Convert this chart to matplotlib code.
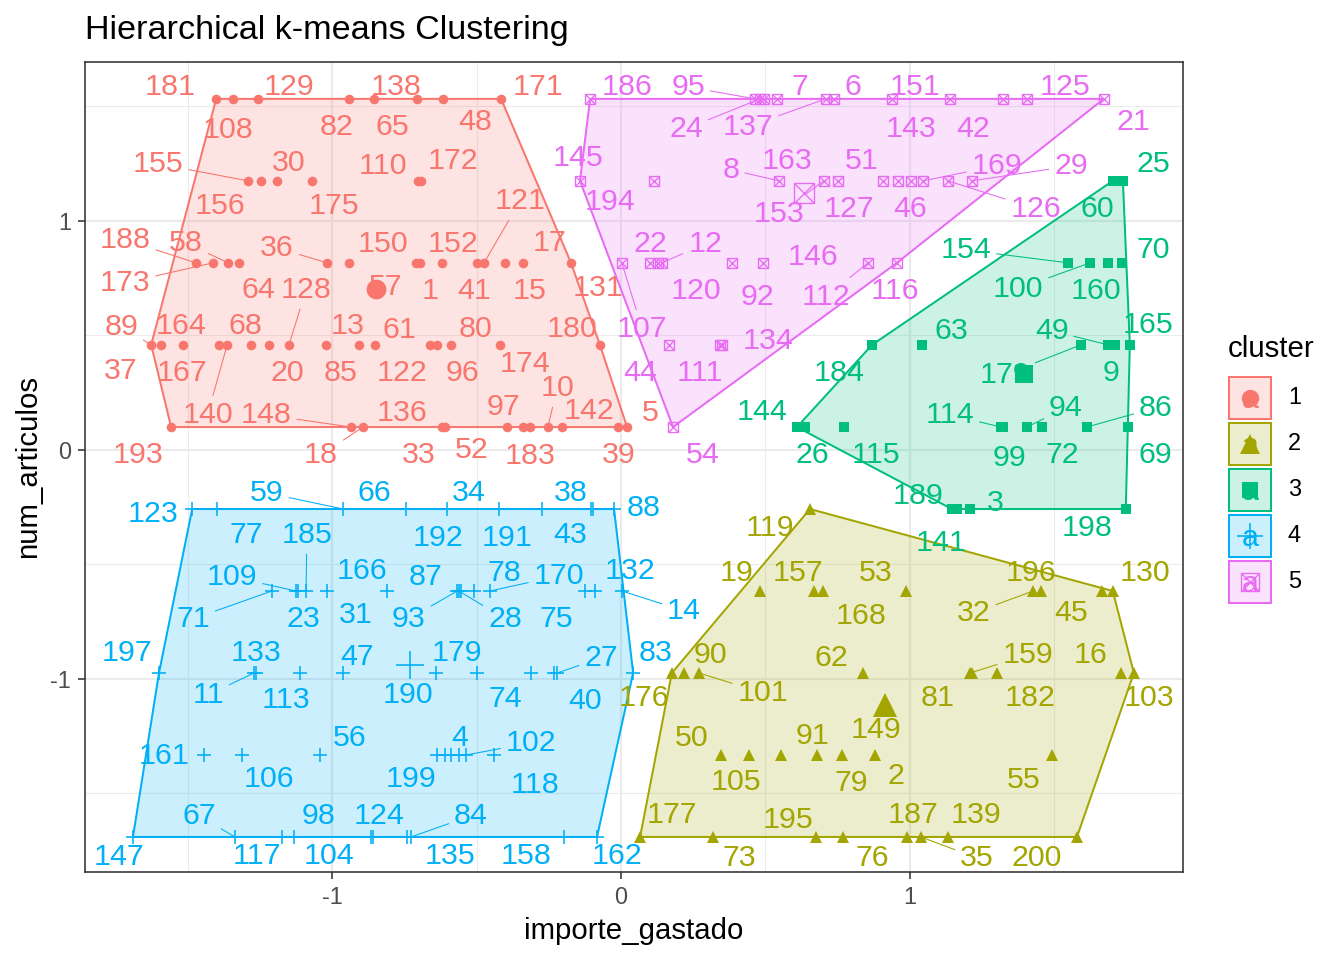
import numpy as np
import matplotlib.pyplot as plt
from matplotlib.patches import Polygon, Rectangle
from matplotlib.colors import to_rgba
from matplotlib.transforms import offset_copy

plt.rcParams['font.family'] = ['Liberation Sans', 'DejaVu Sans']
plt.rcParams['axes.unicode_minus'] = False

# ---- datos (importe_gastado, num_articulos escalados) ----
# cluster 1
c1_lab = ['181', '108', '129', '82', '65', '138', '48', '171',
          '155', '156', '30', '175', '110', '172',
          '188', '173', '58', '64', '36', '150', '57', '1', '152', '41', '121', '15', '17', '131',
          '89', '37', '164', '167', '140', '68', '20', '128', '85', '13', '122', '61', '96', '80', '174', '180',
          '193', '148', '18', '136', '33', '52', '97', '183', '10', '142', '39', '5']
c1_x = [-1.401, -1.343, -1.256, -0.941, -0.855, -0.706, -0.616, -0.415,
        -1.291, -1.246, -1.190, -1.069, -0.702, -0.692,
        -1.471, -1.412, -1.360, -1.322, -1.017, -0.941, -0.709, -0.696, -0.619, -0.498, -0.474, -0.401, -0.339, -0.173,
        -1.626, -1.592, -1.516, -1.391, -1.363, -1.280, -1.218, -1.149, -1.021, -0.907, -0.851, -0.661, -0.637, -0.588, -0.419, -0.073,
        -1.557, -0.934, -0.893, -0.619, -0.609, -0.394, -0.339, -0.315, -0.253, -0.204, -0.010, 0.021]
c1_y = [1.533, 1.533, 1.533, 1.533, 1.533, 1.533, 1.533, 1.533,
        1.175, 1.175, 1.175, 1.175, 1.175, 1.175,
        0.817, 0.817, 0.817, 0.817, 0.817, 0.817, 0.817, 0.817, 0.817, 0.817, 0.817, 0.817, 0.817, 0.817,
        0.459, 0.459, 0.459, 0.459, 0.459, 0.459, 0.459, 0.459, 0.459, 0.459, 0.459, 0.459, 0.459, 0.459, 0.459, 0.459,
        0.100, 0.100, 0.100, 0.100, 0.100, 0.100, 0.100, 0.100, 0.100, 0.100, 0.100, 0.100]
c1_lx = [-1.561, -1.360, -1.149, -0.983, -0.792, -0.779, -0.505, -0.287,
         -1.602, -1.388, -1.149, -0.993, -0.824, -0.581,
         -1.716, -1.716, -1.505, -1.256, -1.190, -0.824, -0.813, -0.661, -0.581, -0.509, -0.349, -0.318, -0.249, -0.080,
         -1.730, -1.730, -1.522, -1.519, -1.431, -1.301, -1.156, -1.090, -0.972, -0.945, -0.758, -0.768, -0.550, -0.502, -0.332, -0.170,
         -1.671, -1.228, -1.038, -0.758, -0.699, -0.516, -0.408, -0.315, -0.221, -0.111, -0.007, 0.100]
c1_ly = [1.598, 1.410, 1.598, 1.424, 1.424, 1.598, 1.445, 1.598,
         1.262, 1.079, 1.266, 1.079, 1.253, 1.275,
         0.930, 0.742, 0.917, 0.712, 0.895, 0.913, 0.725, 0.707, 0.913, 0.707, 1.100, 0.707, 0.917, 0.721,
         0.550, 0.358, 0.555, 0.349, 0.166, 0.555, 0.349, 0.712, 0.349, 0.555, 0.349, 0.537, 0.349, 0.541, 0.389, 0.541,
         -0.009, 0.166, -0.009, 0.175, -0.009, 0.013, 0.201, -0.013, 0.284, 0.183, -0.009, 0.175]
c1_seg = ['155', '188', '173', '58', '36', '121', '128', '89', '140', '148', '18', '10']

# cluster 2
c2_lab = ['119',
          '19', '157', '168', '53', '32', '196', '45', '130',
          '176', '90', '101', '62', '159', '182', '81', '16', '103',
          '50', '105', '91', '79', '149', '2', '55',
          '177', '73', '195', '76', '187', '35', '139', '200']
c2_x = [0.654,
        0.481, 0.668, 0.699, 0.986, 1.426, 1.453, 1.664, 1.702,
        0.176, 0.218, 0.270, 0.837, 1.208, 1.215, 1.301, 1.730, 1.775,
        0.346, 0.443, 0.554, 0.678, 0.765, 0.879, 1.491,
        0.066, 0.318, 0.675, 0.768, 0.990, 1.038, 1.131, 1.578]
c2_y = [-0.258,
        -0.616, -0.616, -0.616, -0.616, -0.616, -0.616, -0.616, -0.616,
        -0.974, -0.974, -0.974, -0.974, -0.974, -0.974, -0.974, -0.974, -0.974,
        -1.332, -1.332, -1.332, -1.332, -1.332, -1.332, -1.332,
        -1.690, -1.690, -1.690, -1.690, -1.690, -1.690, -1.690, -1.690]
c2_lx = [0.516,
         0.401, 0.612, 0.830, 0.882, 1.221, 1.419, 1.557, 1.813,
         0.080, 0.308, 0.491, 0.727, 1.408, 1.415, 1.097, 1.626, 1.827,
         0.246, 0.398, 0.664, 0.796, 0.882, 0.952, 1.394,
         0.176, 0.408, 0.578, 0.869, 1.010, 1.232, 1.228, 1.439]
c2_ly = [-0.328,
         -0.524, -0.524, -0.712, -0.524, -0.699, -0.524, -0.699, -0.524,
         -1.070, -0.882, -1.048, -0.895, -0.882, -1.070, -1.070, -0.882, -1.070,
         -1.245, -1.437, -1.236, -1.441, -1.210, -1.410, -1.428,
         -1.581, -1.769, -1.603, -1.769, -1.581, -1.769, -1.581, -1.769]
c2_seg = ['32', '101', '159', '35']

# cluster 3
c3_lab = ['60', '25',
          '154', '100', '160', '70',
          '184', '63', '179', '49', '9', '165',
          '144', '26', '115', '114', '99', '94', '72', '86', '69',
          '189', '141', '3', '198']
c3_x = [1.702, 1.737,
        1.547, 1.623, 1.685, 1.734,
        0.869, 1.042, 1.592, 1.685, 1.709, 1.761,
        0.609, 0.637, 0.772, 1.315, 1.322, 1.405, 1.457, 1.612, 1.754,
        1.145, 1.163, 1.208, 1.747]
c3_y = [1.175, 1.175,
        0.817, 0.817, 0.817, 0.817,
        0.459, 0.459, 0.459, 0.459, 0.459, 0.459,
        0.100, 0.100, 0.100, 0.100, 0.100, 0.100, 0.100, 0.100, 0.100,
        -0.258, -0.258, -0.258, -0.258]
c3_lx = [1.647, 1.841,
         1.194, 1.374, 1.644, 1.841,
         0.754, 1.145, 1.328, 1.491, 1.696, 1.824,
         0.488, 0.664, 0.882, 1.138, 1.343, 1.540, 1.526, 1.851, 1.851,
         1.028, 1.107, 1.294, 1.612]
c3_ly = [1.066, 1.262,
         0.886, 0.716, 0.707, 0.886,
         0.349, 0.533, 0.341, 0.533, 0.349, 0.559,
         0.179, -0.009, -0.009, 0.166, -0.022, 0.197, -0.009, 0.197, -0.009,
         -0.188, -0.393, -0.218, -0.328]
c3_seg = ['154', '100', '179', '49', '114', '94', '86', '189']

# cluster 4
c4_lab = ['123', '77', '59', '66', '192', '34', '191', '43', '38', '88',
          '71', '109', '23', '185', '31', '166', '93', '28', '87', '78', '170', '75', '132', '14',
          '197', '11', '133', '113', '47', '190', '179', '74', '40', '27', '83',
          '161', '106', '56', '199', '', '4', '', '102', '118',
          '147', '67', '117', '104', '98', '124', '135', '84', '158', '162']
c4_x = [-1.484, -1.398, -0.962, -0.744, -0.602, -0.422, -0.273, -0.104, -0.097, -0.024,
        -1.208, -1.125, -1.118, -1.090, -1.017, -0.810, -0.567, -0.561, -0.554, -0.509, -0.453, -0.125, -0.090, 0.003,
        -1.599, -1.270, -1.263, -1.111, -0.962, -0.640, -0.498, -0.311, -0.232, -0.221, 0.042,
        -1.443, -1.311, -1.042, -0.637, -0.609, -0.588, -0.561, -0.536, -0.439,
        -1.689, -1.336, -1.173, -1.131, -0.865, -0.858, -0.740, -0.727, -0.197, -0.083]
c4_y = [-0.258, -0.258, -0.258, -0.258, -0.258, -0.258, -0.258, -0.258, -0.258, -0.258,
        -0.616, -0.616, -0.616, -0.616, -0.616, -0.616, -0.616, -0.616, -0.616, -0.616, -0.616, -0.616, -0.616, -0.616,
        -0.974, -0.974, -0.974, -0.974, -0.974, -0.974, -0.974, -0.974, -0.974, -0.974, -0.974,
        -1.332, -1.332, -1.332, -1.332, -1.332, -1.332, -1.332, -1.332, -1.332,
        -1.690, -1.690, -1.690, -1.690, -1.690, -1.690, -1.690, -1.690, -1.690, -1.690]
c4_lx = [-1.619, -1.298, -1.225, -0.855, -0.633, -0.526, -0.394, -0.176, -0.173, 0.080,
         -1.481, -1.346, -1.100, -1.087, -0.917, -0.896, -0.734, -0.401, -0.675, -0.405, -0.215, -0.225, 0.031, 0.218,
         -1.709, -1.429, -1.263, -1.159, -0.913, -0.737, -0.567, -0.401, -0.125, -0.069, 0.121,
         -1.581, -1.218, -0.938, -0.727, -0.609, -0.557, -0.561, -0.311, -0.298,
         -1.737, -1.460, -1.260, -1.010, -1.048, -0.837, -0.592, -0.519, -0.329, -0.014]
c4_ly = [-0.266, -0.358, -0.175, -0.175, -0.371, -0.175, -0.371, -0.358, -0.175, -0.240,
         -0.725, -0.541, -0.725, -0.358, -0.707, -0.515, -0.725, -0.725, -0.541, -0.524, -0.537, -0.725, -0.515, -0.690,
         -0.873, -1.057, -0.873, -1.079, -0.891, -1.057, -0.873, -1.074, -1.083, -0.895, -0.873,
         -1.323, -1.424, -1.245, -1.424, -1.332, -1.245, -1.332, -1.266, -1.450,
         -1.764, -1.585, -1.760, -1.760, -1.585, -1.585, -1.760, -1.585, -1.760, -1.760]
c4_seg = ['59', '71', '109', '185', '93', '28', '170', '14', '11', '27', '102', '67', '84']

# cluster 5
c5_lab = ['186', '95', '24', '', '7', '137', '6', '151', '143', '42', '125', '21',
          '145', '194', '8', '153', '163', '51', '127', '46', '169', '126', '29',
          '107', '22', '120', '12', '92', '146', '112', '116',
          '44', '111', '134',
          '54']
c5_x = [-0.107, 0.464, 0.481, 0.495, 0.540, 0.709, 0.737, 0.938, 1.138, 1.322, 1.405, 1.671,
        -0.142, 0.114, 0.547, 0.702, 0.751, 0.907, 0.958, 1.003, 1.045, 1.131, 1.215,
        0.003, 0.100, 0.128, 0.142, 0.384, 0.491, 0.855, 0.955,
        0.166, 0.343, 0.349,
        0.180]
c5_y = [1.533, 1.533, 1.533, 1.533, 1.533, 1.533, 1.533, 1.533, 1.533, 1.533, 1.533, 1.533,
        1.175, 1.175, 1.175, 1.175, 1.175, 1.175, 1.175, 1.175, 1.175, 1.175, 1.175,
        0.817, 0.817, 0.817, 0.817, 0.817, 0.817, 0.817, 0.817,
        0.459, 0.459, 0.459,
        0.100]
c5_lx = [0.021, 0.232, 0.225, 0.495, 0.619, 0.439, 0.803, 1.017, 1.003, 1.218, 1.536, 1.772,
         -0.149, -0.038, 0.381, 0.547, 0.574, 0.834, 0.789, 1.000, 1.301, 1.436, 1.557,
         0.073, 0.100, 0.260, 0.291, 0.471, 0.664, 0.709, 0.948,
         0.066, 0.273, 0.509,
         0.284]
c5_ly = [1.598, 1.598, 1.415, 1.533, 1.598, 1.424, 1.598, 1.598, 1.415, 1.415, 1.598, 1.445,
         1.288, 1.096, 1.236, 1.044, 1.275, 1.275, 1.066, 1.066, 1.253, 1.066, 1.253,
         0.541, 0.913, 0.707, 0.913, 0.681, 0.856, 0.681, 0.707,
         0.349, 0.349, 0.489,
         -0.009]
c5_seg = ['95', '24', '137', '8', '153', '169', '126', '29', '107', '12', '112']

colores = ['#F8766D', '#A3A500', '#00BF7D', '#00B0F6', '#E76BF3']
grupos = [(c1_lab, c1_x, c1_y, c1_lx, c1_ly, c1_seg),
          (c2_lab, c2_x, c2_y, c2_lx, c2_ly, c2_seg),
          (c3_lab, c3_x, c3_y, c3_lx, c3_ly, c3_seg),
          (c4_lab, c4_x, c4_y, c4_lx, c4_ly, c4_seg),
          (c5_lab, c5_x, c5_y, c5_lx, c5_ly, c5_seg)]


def envolvente(xs, ys):
    pts = sorted(set(zip(xs, ys)))

    def cross(o, a, b):
        return (a[0]-o[0])*(b[1]-o[1]) - (a[1]-o[1])*(b[0]-o[0])
    lower = []
    for p in pts:
        while len(lower) >= 2 and cross(lower[-2], lower[-1], p) <= 0:
            lower.pop()
        lower.append(p)
    upper = []
    for p in reversed(pts):
        while len(upper) >= 2 and cross(upper[-2], upper[-1], p) <= 0:
            upper.pop()
        upper.append(p)
    return lower[:-1] + upper[:-1]


def puntos(ax, k, x, y, ms, z):
    c = colores[k]
    if k == 0:
        ax.plot(x, y, 'o', ms=ms, color=c, mew=0, ls='none', zorder=z)
    elif k == 1:
        ax.plot(x, y, '^', ms=ms*1.2, color=c, mew=0, ls='none', zorder=z)
    elif k == 2:
        ax.plot(x, y, 's', ms=ms*0.95, color=c, mew=0, ls='none', zorder=z)
    elif k == 3:
        ax.plot(x, y, '+', ms=ms*1.45, color=c, mew=0.6, ls='none', zorder=z)
    else:
        ax.plot(x, y, 's', ms=ms*1.05, mfc='none', mec=c, mew=0.5, ls='none', zorder=z)
        ax.plot(x, y, 'x', ms=ms*1.05, color=c, mew=0.5, ls='none', zorder=z)


fig = plt.figure(figsize=(7, 5), dpi=192)
ax = fig.add_axes([85/1344, 1-872/960, (1183-85)/1344, (872-62)/960])
ax.set_xlim(-1.855, 1.945)
ax.set_ylim(-1.843, 1.694)

for v in [-1.5, -0.5, 0.5, 1.5]:
    ax.axvline(v, color='#EBEBEB', lw=0.4, zorder=0)
    ax.axhline(v, color='#EBEBEB', lw=0.4, zorder=0)
for v in [-1, 0, 1]:
    ax.axvline(v, color='#EBEBEB', lw=0.8, zorder=0)
    ax.axhline(v, color='#EBEBEB', lw=0.8, zorder=0)

tr_lab = offset_copy(ax.transData, fig=fig, y=-10.9, units='dots')

for k, (lab, x, y, lx, ly, seg) in enumerate(grupos):
    c = colores[k]
    h = envolvente(x, y)
    ax.add_patch(Polygon(h, closed=True, facecolor=to_rgba(c, 0.2),
                         edgecolor=c, lw=0.75, zorder=1))
    puntos(ax, k, x, y, 3.6, 2)
    for t, px, py, tx, ty in zip(lab, x, y, lx, ly):
        if t == '':
            continue
        if t in seg:
            ax.annotate(t, xy=(px, py), xytext=(tx, ty), textcoords=tr_lab,
                        ha='center', va='baseline', fontsize=11.4, color=c, zorder=3,
                        arrowprops=dict(arrowstyle='-', color=c, lw=0.4,
                                        shrinkA=0, shrinkB=0))
        else:
            ax.text(tx, ty, t, transform=tr_lab, ha='center', va='baseline',
                    fontsize=11.4, color=c, zorder=3)

# centros de cada cluster
for k, (lab, x, y, lx, ly, seg) in enumerate(grupos):
    puntos(ax, k, [np.mean(x)], [np.mean(y)], 7.4, 5)

ax.set_xticks([-1, 0, 1])
ax.set_yticks([-1, 0, 1])
ax.set_xticklabels(['-1', '0', '1'])
ax.set_yticklabels(['-1', '0', '1'])
ax.tick_params(length=2.75, width=0.6, color='#333333', labelcolor='#4D4D4D',
               labelsize=8.8, pad=2.5)
for s in ax.spines.values():
    s.set_color('#333333')
    s.set_linewidth(0.6)
ax.set_xlabel('importe_gastado', fontsize=11, labelpad=3)
ax.set_ylabel('num_articulos', fontsize=11, labelpad=3)
fig.text(85/1344, 1-31/960, 'Hierarchical k-means Clustering', fontsize=12.8,
         ha='left', va='center')

# leyenda
lg = fig.add_axes([0, 0, 1, 1], facecolor='none')
lg.set_xlim(0, 1344)
lg.set_ylim(960, 0)
lg.axis('off')
lg.text(1228, 349, 'cluster', fontsize=11, ha='left', va='center')
for i, c in enumerate(colores):
    cy = 398 + 46*i
    lg.add_patch(Rectangle((1229, cy-21), 42, 42, facecolor=to_rgba(c, 0.2),
                           edgecolor=c, lw=0.75))
    puntos(lg, i, [1250], [cy], 6.5, 2)
    lg.text(1250, cy+2, 'a', fontsize=11.4, color=c, ha='center', va='center', zorder=3)
    lg.text(1288, cy, str(i+1), fontsize=8.8, ha='left', va='center')

fig.savefig('out.png', dpi=192)
